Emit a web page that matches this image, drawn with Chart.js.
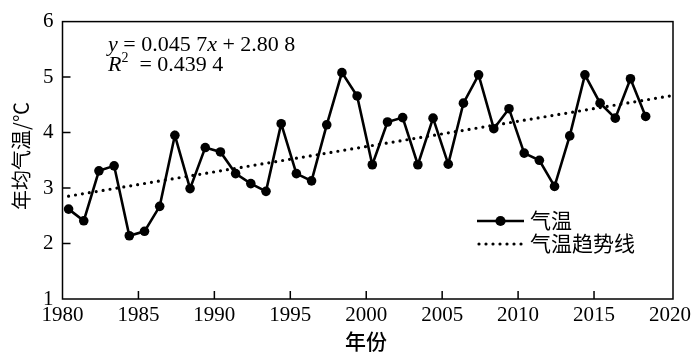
<!DOCTYPE html>
<html>
<head>
<meta charset="utf-8">
<script src="https://cdn.jsdelivr.net/npm/chart.js@4.4.1/dist/chart.umd.min.js"></script>
<style>
html,body{margin:0;padding:0;background:#fff;}
#wrap{width:700px;height:358px;}
</style>
</head>
<body>
<div id="wrap"><canvas id="c" width="700" height="358"></canvas></div>
<script>
const years = [1980,1981,1982,1983,1984,1985,1986,1987,1988,1989,1990,1991,1992,1993,1994,1995,1996,1997,1998,1999,2000,2001,2002,2003,2004,2005,2006,2007,2008,2009,2010,2011,2012,2013,2014,2015,2016,2017,2018];
const temps = [2.62,2.41,3.31,3.40,2.14,2.22,2.67,3.95,2.99,3.73,3.65,3.26,3.08,2.94,4.16,3.26,3.13,4.14,5.08,4.66,3.42,4.19,4.27,3.42,4.26,3.43,4.53,5.04,4.07,4.43,3.63,3.50,3.03,3.94,5.04,4.53,4.26,4.97,4.29];
const trendX = [1980.4, 2020.0];
const trendY = [2.854, 4.66];
const xTicks = [1980,1985,1990,1995,2000,2005,2010,2015,2020];
const yTicks = [1,2,3,4,5,6];
const legendLabels = ['气温','气温趋势线'];
const axisTitles = {x:'年份', y:'年均气温/℃'};

const serif = '"Liberation Serif","Times New Roman",serif';
const cjk = '"Noto Sans CJK SC","Noto Sans",sans-serif';

const mainData = years.map((y,i)=>({x:y+0.4, y:temps[i]}));
const trendData = trendX.map((x,i)=>({x:x, y:trendY[i]}));

const decor = {
  id:'decor',
  afterDraw(chart){
    const ctx = chart.ctx, a = chart.chartArea;
    const xs = chart.scales.x, ys = chart.scales.y;
    ctx.save();
    ctx.strokeStyle='#000'; ctx.lineWidth=1.5;
    ctx.strokeRect(a.left, a.top, a.right-a.left, a.bottom-a.top);
    ctx.beginPath();
    yTicks.slice(1,-1).forEach(v=>{const p=ys.getPixelForValue(v); ctx.moveTo(a.left,p); ctx.lineTo(a.left+8,p);});
    xTicks.slice(1,-1).forEach(v=>{const p=xs.getPixelForValue(v); ctx.moveTo(p,a.bottom); ctx.lineTo(p,a.bottom-8);});
    ctx.stroke();
    ctx.fillStyle='#000';
    ctx.font='500 21px '+cjk;
    ctx.textAlign='center'; ctx.textBaseline='middle';
    ctx.fillText(axisTitles.x, 366, 341);
    ctx.save();
    ctx.translate(21, 156); ctx.rotate(-Math.PI/2);
    ctx.font='20px '+cjk;
    ctx.fillText(axisTitles.y, 0, 0);
    ctx.restore();
    ctx.textAlign='left'; ctx.textBaseline='alphabetic';
    function seg(parts, x, y){
      parts.forEach(p=>{ctx.font=(p[1]?'italic ':'')+(p[2]||22)+'px '+serif; ctx.fillText(p[0], x, y+(p[3]||0)); x+=ctx.measureText(p[0]).width;});
      return x;
    }
    seg([['y',1],[' = 0.045 7'],['x',1],[' + 2.80 8']], 108, 51);
    seg([['R',1],['2',0,14,-9],['  = 0.439 4']], 108, 71);
    const d0 = chart.data.datasets[0], d1 = chart.data.datasets[1];
    ctx.strokeStyle='#000';
    ctx.lineWidth=d0.borderWidth; ctx.setLineDash([]);
    ctx.beginPath(); ctx.moveTo(477,221); ctx.lineTo(524,221); ctx.stroke();
    ctx.beginPath(); ctx.arc(500.5,221,d0.pointRadius+0.3,0,Math.PI*2); ctx.fill();
    ctx.lineWidth=d1.borderWidth; ctx.lineCap='round'; ctx.setLineDash(d1.borderDash);
    ctx.beginPath(); ctx.moveTo(479,244); ctx.lineTo(524,244); ctx.stroke();
    ctx.setLineDash([]);
    ctx.font='21px '+cjk; ctx.textBaseline='middle';
    ctx.fillText(legendLabels[0], 530, 220);
    ctx.fillText(legendLabels[1], 530, 243);
    ctx.restore();
  }
};

new Chart(document.getElementById('c'), {
  type:'scatter',
  data:{datasets:[
    {label:legendLabels[0], data:mainData, showLine:true, borderColor:'#000', backgroundColor:'#000', borderWidth:2.6, pointRadius:4.8, pointBackgroundColor:'#000', pointBorderWidth:0, tension:0, order:1},
    {label:legendLabels[1], data:trendData, showLine:true, borderColor:'#000', borderWidth:3.2, borderDash:[0,7], borderCapStyle:'round', pointRadius:0, order:2}
  ]},
  options:{
    responsive:false, animation:false,
    layout:{padding:{top:12, right:27, left:0, bottom:0}},
    plugins:{legend:{display:false}, tooltip:{enabled:false}},
    scales:{
      x:{type:'linear', min:1980, max:2020.2,
        afterBuildTicks(s){s.ticks = xTicks.map(v=>({value:v}));},
        afterFit(s){s.height=59;},
        grid:{display:false, drawTicks:false}, border:{display:false},
        ticks:{font:{family:serif,size:21}, color:'#000', padding:4, maxRotation:0, autoSkip:false, callback:v=>String(v)}},
      y:{min:1, max:6,
        afterBuildTicks(s){s.ticks = yTicks.map(v=>({value:v}));},
        afterFit(s){s.width=62.5;},
        grid:{display:false, drawTicks:false}, border:{display:false},
        ticks:{font:{family:serif,size:21}, color:'#000', padding:9, callback:v=>String(v)}}
    }
  },
  plugins:[decor]
});
</script>
</body>
</html>
